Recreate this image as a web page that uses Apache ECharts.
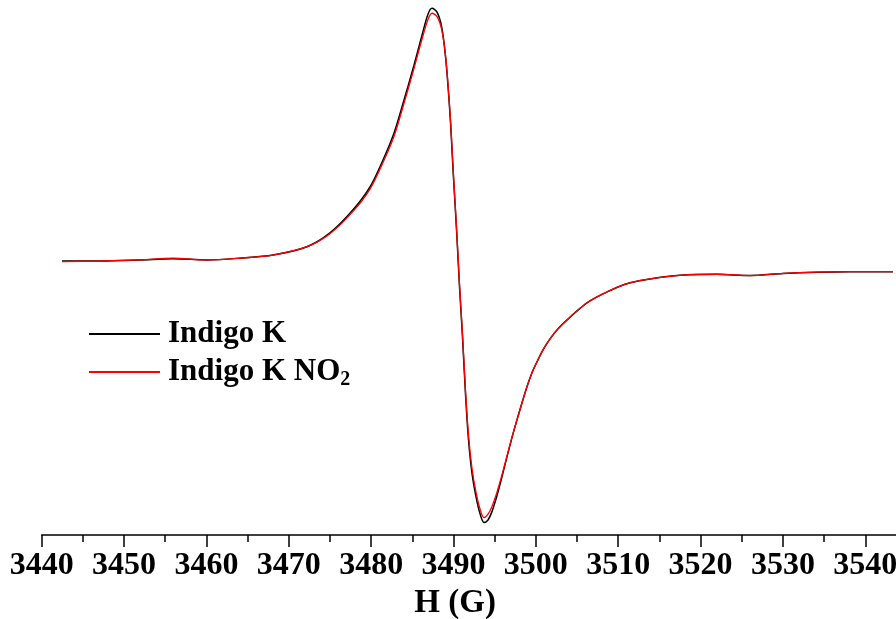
<!DOCTYPE html>
<html>
<head>
<meta charset="utf-8">
<script src="https://cdn.jsdelivr.net/npm/echarts@6/dist/echarts.min.js"></script>
<style>
html,body{margin:0;padding:0;background:#fff;}
#chart{width:896px;height:619px;}
</style>
</head>
<body>
<div id="chart"></div>
<script>
// Magnetic field H (G)
var fields = [3442.46,3447.08,3451.94,3455.94,3460.07,3464.07,3468.08,3472.21,3475.00,3477.80,3479.86,3481.44,3482.78,3483.99,3485.20,3486.18,3486.90,3487.39,3488.00,3488.57,3489.05,3489.58,3489.98,3490.39,3490.73,3491.09,3491.46,3491.82,3492.25,3492.73,3493.22,3493.70,3494.19,3494.67,3495.28,3495.89,3496.50,3497.10,3497.71,3498.32,3498.92,3499.53,3500.14,3500.87,3501.72,3502.69,3503.78,3505.00,3506.21,3507.42,3508.64,3509.97,3511.43,3513.86,3517.50,3521.99,3526.00,3530.01,3534.14,3538.14,3543.36];
// EPR signal (arbitrary units)
var indigoK = [1.5,1.5,1.9,2.4,1.9,2.6,3.8,7.0,12.3,21.2,30.0,40.4,50.8,63.5,76.9,88.5,96.5,98.8,97.3,91.5,79.6,57.7,34.6,12.3,-8.5,-27.7,-50.0,-67.3,-80.4,-89.2,-95.8,-99.2,-98.2,-95.0,-88.8,-81.5,-73.8,-66.5,-59.6,-53.1,-46.9,-41.5,-37.3,-32.7,-28.5,-24.6,-21.2,-17.7,-14.6,-12.3,-10.4,-8.5,-6.9,-5.4,-4.0,-3.6,-4.1,-3.3,-2.8,-2.6,-2.6];
var indigoKNO2 = [1.3,1.5,1.9,2.6,1.9,2.6,3.8,7.0,12.0,20.6,29.2,39.4,49.5,62.2,75.6,87.0,94.5,96.9,95.6,90.5,80.0,58.5,35.5,13.0,-7.5,-26.5,-48.5,-65.5,-78.5,-87.5,-94.0,-97.3,-96.0,-93.0,-87.5,-80.8,-73.5,-66.3,-59.6,-53.1,-46.9,-41.5,-37.3,-32.7,-28.5,-24.6,-21.2,-17.7,-14.6,-12.3,-10.4,-8.5,-6.9,-5.4,-4.0,-3.6,-4.1,-3.3,-2.8,-2.6,-2.6];
var seriesNames = ['Indigo K', 'Indigo K NO2'];
var xMin = 3440, xMax = 3545, majorStep = 10, minorStep = 5;

function pairs(xs, ys){ return xs.map(function(x,i){ return [x, ys[i]]; }); }

var FONT = 'Liberation Serif';
var chart = echarts.init(document.getElementById('chart'), null, {renderer:'canvas'});
chart.setOption({
  animation: false,
  backgroundColor: '#fff',
  grid: {left: 41.7, top: 0, width: 864.8, height: 535, containLabel: false, outerBoundsMode: 'none'},
  legend: {
    data: seriesNames, left: 89, top: 316, padding: 0, orient: 'vertical', itemWidth: 71, itemHeight: 2, itemGap: -4,
    icon: 'rect',
    textStyle: {fontFamily: FONT, fontWeight: 'bold', fontSize: 31, color: '#000', lineHeight: 36, padding: [0,0,0,3],
      rich: {sub: {fontFamily: FONT, fontWeight: 'bold', fontSize: 20, color: '#000', verticalAlign: 'bottom', lineHeight: 18, padding: [22,0,0,0]}}},
    formatter: function(name){ return name === 'Indigo K NO2' ? 'Indigo K NO{sub|2}' : name; }
  },
  xAxis: [
    {type: 'value', min: xMin, max: xMax, interval: minorStep, position: 'bottom',
     axisLine: {show: true, onZero: false, lineStyle: {color: '#000', width: 1.5}},
     axisTick: {show: true, length: 7, lineStyle: {color: '#000', width: 1.5}},
     splitLine: {show: false},
     axisLabel: {interval: 0, margin: 15, fontFamily: FONT, fontWeight: 'bold', fontSize: 32, color: '#000',
       formatter: function(v){ return (v % majorStep === 0 && v < xMax) ? String(v) : ''; }},
     name: 'H (G)', nameLocation: 'middle', nameGap: 47,
     nameTextStyle: {fontFamily: FONT, fontWeight: 'bold', fontSize: 33, color: '#000', padding: [0, 38, 0, 0]}},
    {type: 'value', min: xMin, max: xMax, interval: majorStep, position: 'bottom',
     axisLine: {show: false, onZero: false},
     axisTick: {show: true, length: 12, lineStyle: {color: '#000', width: 1.5}},
     axisLabel: {show: false}, splitLine: {show: false}}
  ],
  yAxis: {type: 'value', show: false, min: -104, max: 102},
  series: [
    {name: seriesNames[0], type: 'line', xAxisIndex: 0, data: pairs(fields, indigoK), symbol: 'none',
     smooth: 0.3, lineStyle: {color: '#000', width: 1.5}, itemStyle: {color: '#000'}},
    {name: seriesNames[1], type: 'line', xAxisIndex: 0, data: pairs(fields, indigoKNO2), symbol: 'none',
     smooth: 0.3, lineStyle: {color: '#ff0000', width: 1.3}, itemStyle: {color: '#ff0000'}}
  ]
});
</script>
</body>
</html>
